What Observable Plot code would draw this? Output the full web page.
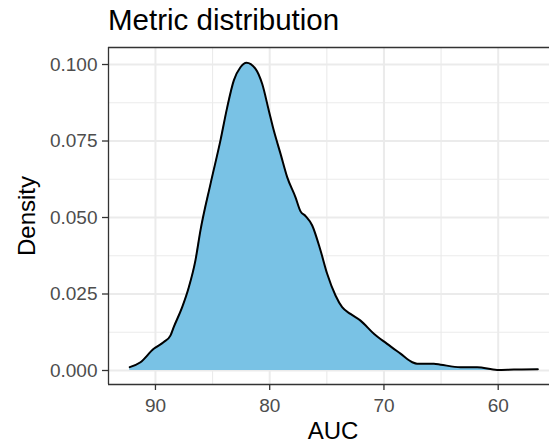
<!DOCTYPE html>
<html><head><meta charset="utf-8">
<script src="https://cdn.jsdelivr.net/npm/d3@7"></script>
<script src="https://cdn.jsdelivr.net/npm/@observablehq/plot@0.6"></script>
<style>
html,body{margin:0;padding:0;background:#fff;}
body{width:549px;height:445px;overflow:hidden;font-family:"Liberation Sans",Arial,Helvetica,sans-serif;}
#wrap{position:relative;width:549px;height:445px;}
#chart{position:absolute;left:0;top:0;}
.t{position:absolute;line-height:1;color:#000;white-space:nowrap;}
#title{left:108px;top:5px;font-size:29.5px;}
#xtitle{left:333px;top:419px;font-size:24px;transform:translateX(-50%);}
#ytitle{left:26.7px;top:215.5px;font-size:24px;transform:translate(-50%,-50%) rotate(-90deg);}
</style></head>
<body>
<div id="wrap">
<div id="chart"></div>
<div class="t" id="title">Metric distribution</div>
<div class="t" id="xtitle">AUC</div>
<div class="t" id="ytitle">Density</div>
</div>
<script>
// AUC values along the density curve
const auc = [92.25, 91.31, 90.15, 89.27, 88.69, 88.40, 87.66, 87.08, 86.50, 86.06,
  85.18, 84.31, 83.72, 83.14, 82.56, 82.03, 81.24, 80.66, 80.08,
  79.64, 79.05, 78.47, 77.74, 77.30, 76.87, 76.28, 75.55, 74.97, 74.24, 73.66,
  72.93, 72.05, 70.88, 69.72, 68.55, 67.52, 67.10, 65.63, 65.04, 63.30,
  61.84, 60.09, 58.62, 56.53];
// density values
const density = [0.0011, 0.0027, 0.0071, 0.0093, 0.0114, 0.0142, 0.0207, 0.0272, 0.0360, 0.0458,
  0.0610, 0.0752, 0.0860, 0.0948, 0.0991, 0.1006, 0.0986, 0.0937, 0.0850,
  0.0784, 0.0708, 0.0632, 0.0566, 0.0520, 0.0505, 0.0474, 0.0392, 0.0316, 0.0245, 0.0207,
  0.0185, 0.0163, 0.0120, 0.0087, 0.0055, 0.0027, 0.0022, 0.0022, 0.0019, 0.0011,
  0.0011, 0.0002, 0.0003, 0.0004];
const xTicks = [90, 80, 70, 60];
const xMinor = [85, 75, 65, 55];
const yTicks = [0, 0.025, 0.05, 0.075, 0.1];
const yMinor = [0.0125, 0.0375, 0.0625, 0.0875];
const xLim = [94.11, 55.51];
const yLim = [-0.004575, 0.10556];

const data = auc.map((a, i) => ({auc: a, density: density[i]}));
const grid = "#EBEBEB";
const chart = Plot.plot({
  width: 549, height: 445,
  marginLeft: 108, marginRight: 0, marginTop: 47, marginBottom: 61,
  style: {fontFamily: '"Liberation Sans",Arial,Helvetica,sans-serif', background: "transparent"},
  x: {domain: xLim, label: null},
  y: {domain: yLim, label: null},
  marks: [
    Plot.gridY(yMinor, {stroke: grid, strokeOpacity: 1, strokeWidth: 1.1}),
    Plot.gridX(xMinor, {stroke: grid, strokeOpacity: 1, strokeWidth: 1.1}),
    Plot.gridY(yTicks, {stroke: grid, strokeOpacity: 1, strokeWidth: 2}),
    Plot.gridX(xTicks, {stroke: grid, strokeOpacity: 1, strokeWidth: 2}),
    Plot.areaY(data, {x: "auc", y: "density", fill: "#79C2E5", curve: "monotone-x"}),
    Plot.lineY(data, {x: "auc", y: "density", stroke: "#000", strokeWidth: 2, curve: "monotone-x"}),
    Plot.ruleX([xLim[0]], {stroke: "#333", strokeWidth: 1.3}),
    Plot.ruleY([yLim[0], yLim[1]], {stroke: "#333", strokeWidth: 1.3}),
    Plot.axisX(xTicks, {tickSize: 6, tickPadding: 8, fontSize: 19, stroke: "#333", fill: "#4D4D4D", strokeWidth: 1.3, label: null}),
    Plot.axisY(yTicks, {tickSize: 6, tickPadding: 5, fontSize: 19, stroke: "#333", fill: "#4D4D4D", strokeWidth: 1.3, label: null, tickFormat: d3.format(".3f")})
  ]
});
document.getElementById("chart").appendChild(chart);
</script>
</body></html>
